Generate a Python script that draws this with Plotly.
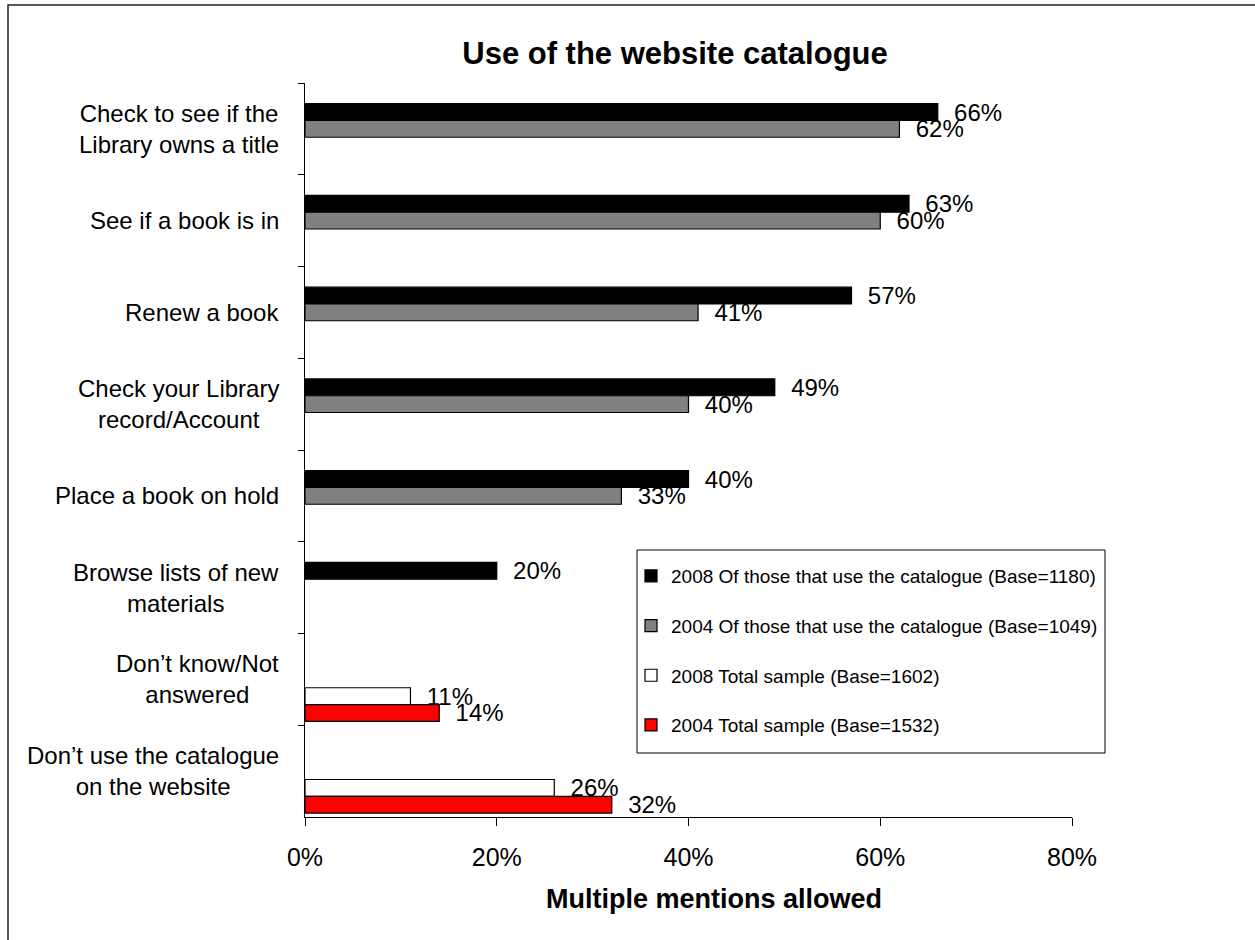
import plotly.graph_objects as go

# Survey categories, top to bottom
categories = [
    "Check to see if the<br>Library owns a title",
    "See if a book is in",
    "Renew a book",
    "Check your Library<br>record/Account",
    "Place a book on hold",
    "Browse lists of new<br>materials",
    "Don\u2019t know/Not<br>answered",
    "Don\u2019t use the catalogue<br>on the website",
]

# Share of respondents (fractions); None where a series has no value
users_2008 = [0.66, 0.63, 0.57, 0.49, 0.40, 0.20, None, None]
users_2004 = [0.62, 0.60, 0.41, 0.40, 0.33, None, None, None]
total_2008 = [None, None, None, None, None, None, 0.11, 0.26]
total_2004 = [None, None, None, None, None, None, 0.14, 0.32]

series_names = [
    "2008 Of those that use the catalogue (Base=1180)",
    "2004 Of those that use the catalogue (Base=1049)",
    "2008 Total sample (Base=1602)",
    "2004 Total sample (Base=1532)",
]
series_values = [users_2008, users_2004, total_2008, total_2004]
series_colors = ["#000000", "#808080", "#FFFFFF", "#FF0000"]

x_ticks = [0, 0.2, 0.4, 0.6, 0.8]

FONT = "Arial, Liberation Sans, sans-serif"

W, H = 1255, 940
L, R, T, B = 305, 183, 83, 123
plot_w = W - L - R
plot_h = H - T - B


def px_x(px):
    return (px - L) / plot_w


def px_y(py):
    return (H - B - py) / plot_h


fig = go.Figure()

# Empty leading slot in each category group (keeps bars below the band centre)
fig.add_trace(go.Bar(
    y=categories, x=[None] * len(categories), orientation="h",
    showlegend=False, hoverinfo="skip", marker_color="rgba(0,0,0,0)",
    legendgroup="g_empty",
))

for i, (name, vals, col) in enumerate(zip(series_names, series_values, series_colors)):
    fig.add_trace(go.Bar(
        y=categories, x=vals, orientation="h", name=name,
        marker=dict(color=col, line=dict(color="#000000", width=1.2)),
        texttemplate="\u00a0\u00a0%{x:.0%}",
        textposition="outside", constraintext="none", cliponaxis=False,
        textfont=dict(family=FONT, size=24, color="#000000"),
        legendgroup=f"g{i}",
    ))

fig.update_layout(
    width=W, height=H,
    margin=dict(l=L, r=R, t=T, b=B),
    paper_bgcolor="white", plot_bgcolor="white",
    barmode="group", bargap=0.085, bargroupgap=0,
    font=dict(family=FONT, color="#000000"),
    title=dict(
        text="<b>Use of the website catalogue</b>",
        font=dict(family=FONT, size=31, color="#000000"),
        xref="container", yref="container",
        x=675 / W, y=1 - 53 / H, xanchor="center", yanchor="middle",
    ),
    xaxis=dict(
        range=[0, 0.8], tickvals=x_ticks, tickformat=".0%",
        showgrid=False, zeroline=False,
        showline=True, linecolor="#000000", linewidth=1.2,
        ticks="outside", ticklen=8, tickcolor="#000000",
        tickfont=dict(family=FONT, size=25, color="#000000"),
        ticklabelstandoff=10,
    ),
    yaxis=dict(
        autorange="reversed", showgrid=False, zeroline=False,
        showline=True, linecolor="#000000", linewidth=1.2,
        ticks="outside", ticklen=6, tickcolor="#000000",
        tickson="boundaries", showticklabels=False,
    ),
    legend=dict(
        x=px_x(631), y=px_y(557), xanchor="left", yanchor="top",
        borderwidth=0, bgcolor="rgba(0,0,0,0)",
        font=dict(family=FONT, size=19, color="#000000"),
        tracegroupgap=22, traceorder="grouped",
    ),
)

# Legend frame
fig.add_shape(
    type="rect", xref="paper", yref="paper",
    x0=px_x(637), x1=px_x(1105), y0=px_y(753), y1=px_y(550),
    line=dict(color="#000000", width=1), fillcolor="white",
    layer="above",
)

# Category labels, centred lines, right-aligned against the axis
for cat in categories:
    fig.add_annotation(
        x=0, xref="paper", y=cat, yref="y",
        text=cat, showarrow=False, xanchor="right", yanchor="middle",
        align="center", xshift=-24,
        font=dict(family=FONT, size=24, color="#000000"),
    )

# Axis title beneath the percentages
fig.add_annotation(
    x=px_x(714), xref="paper", y=px_y(899), yref="paper",
    text="<b>Multiple mentions allowed</b>", showarrow=False,
    xanchor="center", yanchor="middle",
    font=dict(family=FONT, size=27, color="#000000"),
)

# Chart frame
fig.add_shape(
    type="rect", xref="paper", yref="paper",
    x0=px_x(8), x1=px_x(1262), y0=px_y(946), y1=px_y(5),
    line=dict(color="#222222", width=1.5), fillcolor="rgba(0,0,0,0)",
    layer="below",
)

fig.write_html("out.html")
